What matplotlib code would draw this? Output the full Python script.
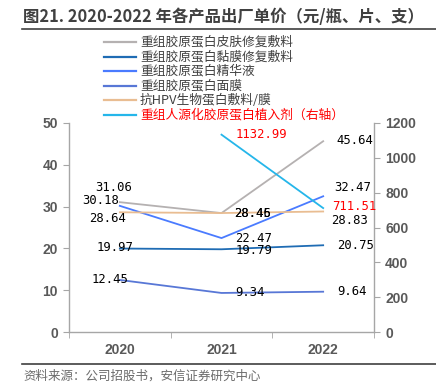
import numpy as np
import matplotlib.pyplot as plt
from matplotlib.lines import Line2D

plt.rcParams['font.family'] = ['Noto Sans CJK SC', 'DejaVu Sans']

# data
years = ["2020", "2021", "2022"]
skin = [31.06, 28.45, 45.64]
mucosa = [19.97, 19.79, 20.75]
essence = [30.18, 22.47, 32.47]
mask = [12.45, 9.34, 9.64]
hpv = [28.64, 28.46, 28.83]
implant = [np.nan, 1132.99, 711.51]

names = ["重组胶原蛋白皮肤修复敷料", "重组胶原蛋白黏膜修复敷料", "重组胶原蛋白精华液",
         "重组胶原蛋白面膜", "抗HPV生物蛋白敷料/膜", "重组人源化胶原蛋白植入剂（右轴）"]

colors = ["#b5b1b1", "#1f6cb4", "#4a7bff", "#5877d6", "#e9bd92", "#25b6ea"]

# label placement (pixel offsets from point, alignment)
label_pos = [
    [(-6, 15, "center"), (13, 0, "left"), (13, 1, "left")],
    [(-5, 1, "center"), (14, -1, "left"), (14, 0, "left")],
    [(-1, 5, "right"), (14, 0, "left"), (11, 9, "left")],
    [(-10, 0, "center"), (14, 0, "left"), (14, 0, "left")],
    [(-12, -6, "center"), (13, 0, "left"), (8, -9, "left")],
    [None, (14, 0, "left"), (9, 2, "left")],
]

fig = plt.figure(figsize=(4.36, 3.85), dpi=100)
ax = fig.add_axes([69 / 436, 53 / 385, 305 / 436, 209 / 385])
ax2 = ax.twinx()

x = np.arange(len(years))
left_series = [skin, mucosa, essence, mask, hpv]
lines = []
for i, vals in enumerate(left_series):
    ln, = ax.plot(x, vals, color=colors[i], lw=1.3)
    lines.append(ln)
ln, = ax2.plot(x, implant, color=colors[5], lw=1.3)
lines.append(ln)

mono = "DejaVu Sans Mono"
all_series = left_series + [implant]
for i, vals in enumerate(all_series):
    target = ax2 if i == 5 else ax
    tcol = "red" if i == 5 else "black"
    for j, v in enumerate(vals):
        if np.isnan(v) or label_pos[i][j] is None:
            continue
        dx, dy, ha = label_pos[i][j]
        target.annotate(f"{v:.2f}", (x[j], v), xytext=(dx, dy), textcoords="offset pixels",
                        ha=ha, va="center", fontsize=8.8, family=mono, color=tcol)

ax.set_xlim(-0.5, 2.5)
ax.set_ylim(0, 50)
ax.set_yticks(range(0, 51, 10))
ax2.set_ylim(0, 1200)
ax2.set_yticks(range(0, 1201, 200))
ax.set_xticks(x)
ax.set_xticklabels(years)
ax.set_xticks([-0.5, 0.5, 1.5, 2.5], minor=True)

axis_gray = "#a6a6a6"
label_gray = "#595959"
for a in (ax, ax2):
    for s in a.spines.values():
        s.set_visible(False)
ax.spines["left"].set_visible(True)
ax.spines["bottom"].set_visible(True)
ax2.spines["right"].set_visible(True)
for s in (ax.spines["left"], ax.spines["bottom"], ax2.spines["right"]):
    s.set_color(axis_gray)
    s.set_linewidth(1.0)

ax.tick_params(axis="x", which="major", length=0, pad=8, labelsize=10, labelcolor=label_gray)
ax.tick_params(axis="x", which="minor", length=4, color=axis_gray, direction="out")
ax.tick_params(axis="y", length=4, color=axis_gray, labelsize=10, labelcolor=label_gray, pad=4)
ax2.tick_params(axis="y", length=4, color=axis_gray, labelsize=10, labelcolor=label_gray, pad=4)
for lab in ax.get_xticklabels() + ax.get_yticklabels() + ax2.get_yticklabels():
    lab.set_family("Liberation Sans")
    lab.set_fontweight("bold")

# legend drawn by hand
leg_y = [42, 57, 71, 86, 100, 115]
for i, name in enumerate(names):
    yy = 1 - leg_y[i] / 385
    fig.add_artist(Line2D([104 / 436, 136 / 436], [yy, yy], color=colors[i], lw=1.6,
                          transform=fig.transFigure))
    fig.text(140 / 436, yy, name, fontsize=9.2, va="center", ha="left",
             color="red" if i == 5 else "#404040")

# title, rules, source
fig.text(23 / 436, 1 - 17 / 385, "图21. 2020-2022 年各产品出厂单价（元/瓶、片、支）",
         fontsize=11.8, fontweight="bold", color="#404040", va="center", ha="left")
fig.add_artist(Line2D([22 / 436, 1], [1 - 29 / 385] * 2, color="#404040", lw=1.2,
                      transform=fig.transFigure))
fig.add_artist(Line2D([22 / 436, 1], [1 - 364 / 385] * 2, color="#404040", lw=1.2,
                      transform=fig.transFigure))
fig.text(23 / 436, 1 - 376 / 385, "资料来源：公司招股书，安信证券研究中心",
         fontsize=9, style="italic", color="#6b6b6b", va="center", ha="left")

fig.savefig("out.png", dpi=100)
